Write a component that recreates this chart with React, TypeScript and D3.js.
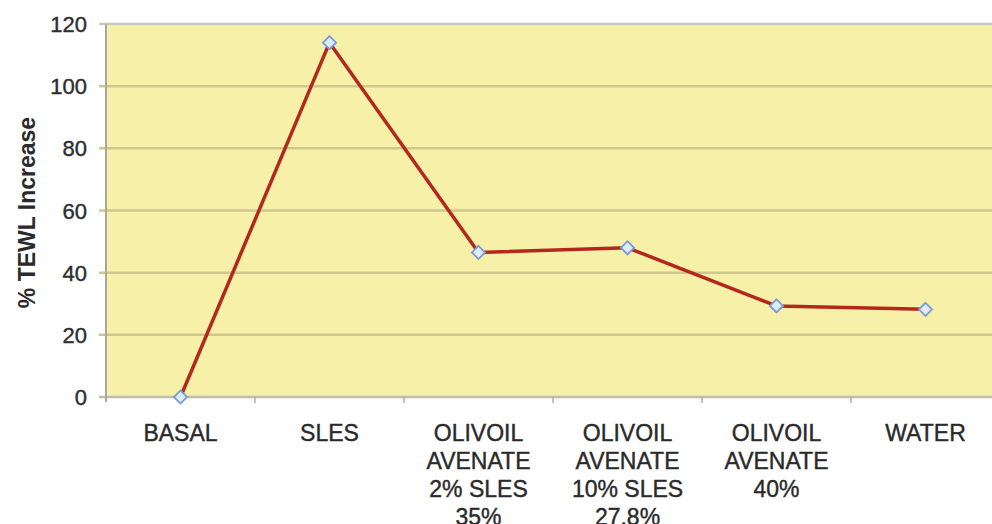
import * as d3 from "d3";
import { useEffect, useRef } from "react";

const categories = [
  ["BASAL"],
  ["SLES"],
  ["OLIVOIL", "AVENATE", "2% SLES", "35%"],
  ["OLIVOIL", "AVENATE", "10% SLES", "27.8%"],
  ["OLIVOIL", "AVENATE", "40%"],
  ["WATER"],
];
const values = [0, 114, 46.5, 48, 29.3, 28.2];
const yTicks = [0, 20, 40, 60, 80, 100, 120];

export default function App() {
  const ref = useRef<SVGSVGElement>(null);

  useEffect(() => {
    const svg = d3.select(ref.current);
    svg.selectAll("*").remove();

    const width = 992;
    const height = 524;
    const margin = { top: 24, right: -8, bottom: 127, left: 106 };

    const ids = categories.map((_, i) => String(i));
    const x = d3.scaleBand()
      .domain(ids)
      .range([margin.left, width - margin.right]);

    const y = d3.scaleLinear()
      .domain([0, 120])
      .range([height - margin.bottom, margin.top]);

    const font = "Arial, 'Liberation Sans', sans-serif";

    // plot background
    svg.append("rect")
      .attr("x", margin.left)
      .attr("y", y(120))
      .attr("width", width - margin.right - margin.left)
      .attr("height", y(0) - y(120))
      .attr("fill", "#f7f0a8");

    // gridlines
    svg.append("g")
      .selectAll("line")
      .data(yTicks)
      .join("line")
      .attr("x1", margin.left - 7)
      .attr("x2", width - margin.right)
      .attr("y1", d => y(d))
      .attr("y2", d => y(d))
      .attr("stroke", d => d === 120 ? "#c9c9c0" : d === 0 ? "#bdbdb0" : "#cfc88e")
      .attr("stroke-width", 2.5);

    // left axis line
    svg.append("line")
      .attr("x1", margin.left)
      .attr("x2", margin.left)
      .attr("y1", y(120))
      .attr("y2", y(0) + 5)
      .attr("stroke", "#a8a8a0")
      .attr("stroke-width", 2);

    // category ticks
    svg.append("g")
      .selectAll("line")
      .data(ids.slice(1))
      .join("line")
      .attr("x1", d => x(d)!)
      .attr("x2", d => x(d)!)
      .attr("y1", y(0))
      .attr("y2", y(0) + 6)
      .attr("stroke", "#b0b0a8")
      .attr("stroke-width", 1.5);

    // y tick labels
    svg.append("g")
      .selectAll("text")
      .data(yTicks)
      .join("text")
      .attr("x", margin.left - 19)
      .attr("y", d => y(d) + 8)
      .attr("text-anchor", "end")
      .attr("font-family", font)
      .attr("font-size", 22)
      .attr("fill", "#2e2e2e")
      .attr("stroke", "#2e2e2e")
      .attr("stroke-width", 0.4)
      .text(d => d);

    // x labels
    const lab = svg.append("g")
      .selectAll("text")
      .data(categories)
      .join("text")
      .attr("text-anchor", "middle")
      .attr("font-family", font)
      .attr("font-size", 23)
      .attr("fill", "#2a2a2a")
      .attr("stroke", "#2a2a2a")
      .attr("stroke-width", 0.4)
      .attr("transform", (_, i) => `translate(${x(String(i))! + x.bandwidth() / 2},441)`);
    lab.selectAll("tspan")
      .data(d => d)
      .join("tspan")
      .attr("x", 0)
      .attr("y", (_, j) => j * 28)
      .text(d => d);

    // y axis title
    svg.append("text")
      .attr("transform", `translate(35,${(y(0) + y(120)) / 2 + 2}) rotate(-90)`)
      .attr("text-anchor", "middle")
      .attr("font-family", font)
      .attr("font-size", 23)
      .attr("font-weight", "bold")
      .attr("fill", "#2a2a2a")
      .text("% TEWL Increase");

    // line
    const line = d3.line<number>()
      .x((_, i) => x(String(i))! + x.bandwidth() / 2)
      .y(d => y(d));

    svg.append("path")
      .datum(values)
      .attr("d", line)
      .attr("fill", "none")
      .attr("stroke", "#b3271d")
      .attr("stroke-width", 3.5)
      .attr("stroke-linejoin", "round");

    // markers
    svg.append("g")
      .selectAll("path")
      .data(values)
      .join("path")
      .attr("transform", (d, i) => `translate(${x(String(i))! + x.bandwidth() / 2},${y(d)})`)
      .attr("d", d3.symbol(d3.symbolDiamond2, 110)())
      .attr("fill", "#dcecfa")
      .attr("stroke", "#7c9ad6")
      .attr("stroke-width", 1.8);
  }, []);

  return (
    <svg ref={ref} width={992} height={524}
      style={{ position: "absolute", left: 0, top: 0, display: "block" }} />
  );
}
